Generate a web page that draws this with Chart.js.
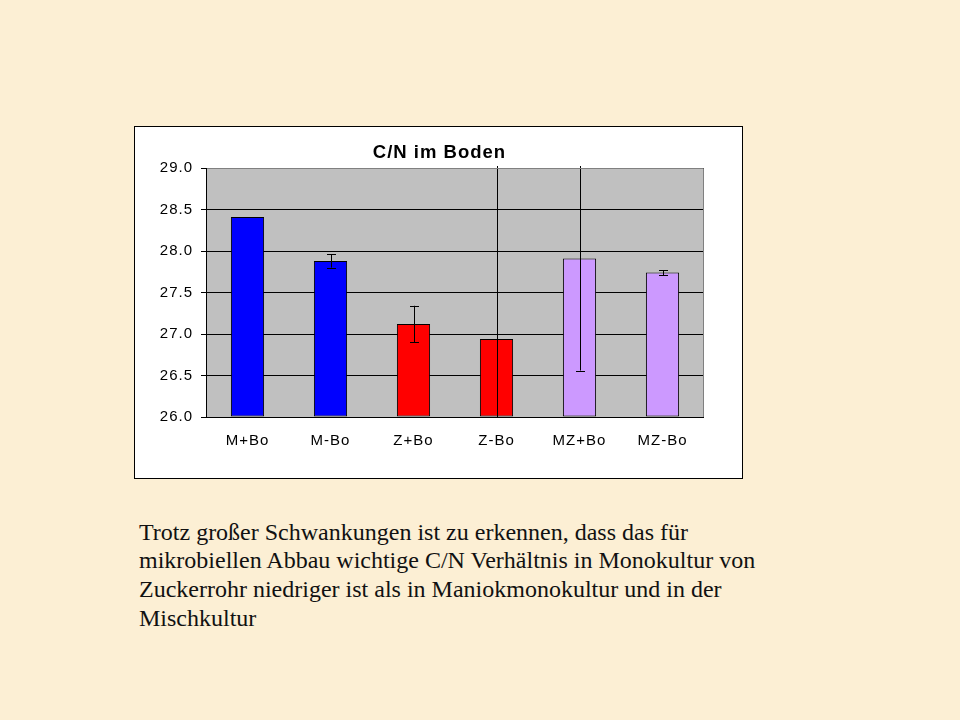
<!DOCTYPE html>
<html>
<head>
<meta charset="utf-8">
<script src="https://cdn.jsdelivr.net/npm/chart.js@4.4.1/dist/chart.umd.min.js"></script>
<style>
  html, body { margin:0; padding:0; }
  body { width:960px; height:720px; background:#fcefd4; position:relative; overflow:hidden; }
  #box { position:absolute; left:134px; top:126px; width:607px; height:351px; background:#fff; border:1px solid #000; }
  #c { position:absolute; left:0; top:0; }
  #txt { position:absolute; left:139px; top:517.6px; width:700px; font-family:"Liberation Serif","Times New Roman",serif; font-size:24px; line-height:28.7px; color:#111; white-space:nowrap; }
</style>
</head>
<body>
<div id="box"><canvas id="c" width="607" height="351"></canvas></div>
<div id="txt">Trotz großer Schwankungen ist zu erkennen, dass das für<br>mikrobiellen Abbau wichtige C/N Verhältnis in Monokultur von<br>Zuckerrohr niedriger ist als in Maniokmonokultur und in der<br>Mischkultur</div>
<script>
const chartTitle = "C/N im Boden";
const categories = ["M+Bo", "M-Bo", "Z+Bo", "Z-Bo", "MZ+Bo", "MZ-Bo"];
const cnValues = [28.41, 27.88, 27.12, 26.94, 27.91, 27.74];
const cnErrors = [0, 0.08, 0.22, 2.3, 1.35, 0.03];
const barColors = ["#0000ff", "#0000ff", "#ff0000", "#ff0000", "#cc99ff", "#cc99ff"];
const yMin = 26.0, yMax = 29.0, yStep = 0.5;

const spacing = {
  id: 'spacing',
  beforeUpdate(chart) { chart.ctx.letterSpacing = '1px'; },
  beforeDraw(chart) { chart.ctx.letterSpacing = '1px'; }
};

const plotBg = {
  id: 'plotBg',
  beforeDraw(chart) {
    const {ctx, chartArea: a} = chart;
    ctx.save();
    ctx.fillStyle = '#c0c0c0';
    ctx.fillRect(a.left, a.top, a.right - a.left, a.bottom - a.top);
    ctx.restore();
  },
  afterDraw(chart) {
    const {ctx, chartArea: a} = chart;
    ctx.save();
    ctx.strokeStyle = '#808080';
    ctx.lineWidth = 1;
    ctx.beginPath();
    ctx.moveTo(a.left, a.top + 0.5); ctx.lineTo(a.right - 0.5, a.top + 0.5);
    ctx.lineTo(a.right - 0.5, a.bottom);
    ctx.stroke();
    ctx.strokeStyle = '#000';
    ctx.beginPath();
    ctx.moveTo(a.left + 0.5, a.top); ctx.lineTo(a.left + 0.5, a.bottom + 0.5);
    ctx.lineTo(a.right, a.bottom + 0.5);
    ctx.stroke();
    ctx.fillStyle = '#000';
    ctx.letterSpacing = '1px';
    ctx.font = 'bold 18.5px "Liberation Sans", Arial, sans-serif';
    ctx.textAlign = 'center';
    ctx.textBaseline = 'middle';
    ctx.fillText(chartTitle, chart.width / 2 + 1, 26);
    ctx.restore();
  }
};

const errorBars = {
  id: 'errorBars',
  afterDatasetsDraw(chart) {
    const {ctx, chartArea: a} = chart;
    const ys = chart.scales.y;
    const meta = chart.getDatasetMeta(0);
    ctx.save();
    ctx.beginPath();
    ctx.rect(a.left, a.top - 2, a.right - a.left, a.bottom - a.top + 2);
    ctx.clip();
    ctx.strokeStyle = '#000';
    ctx.lineWidth = 1;
    meta.data.forEach((bar, i) => {
      const e = cnErrors[i];
      if (!e) return;
      const x = Math.round(bar.x) + 0.5;
      const vt = cnValues[i] + e, vb = cnValues[i] - e;
      const yt = ys.getPixelForValue(Math.min(vt, yMax)) - (vt > yMax ? 2 : 0);
      const yb = ys.getPixelForValue(Math.max(vb, yMin));
      ctx.beginPath();
      ctx.moveTo(x, yt); ctx.lineTo(x, yb);
      if (vt <= yMax) { const y = Math.round(yt) + 0.5; ctx.moveTo(x - 4.5, y); ctx.lineTo(x + 4.5, y); }
      if (vb >= yMin) { const y = Math.round(yb) + 0.5; ctx.moveTo(x - 4.5, y); ctx.lineTo(x + 4.5, y); }
      ctx.stroke();
    });
    ctx.restore();
  }
};

new Chart(document.getElementById('c'), {
  type: 'bar',
  data: {
    labels: categories,
    datasets: [{
      data: cnValues,
      base: yMin,
      backgroundColor: barColors,
      borderColor: '#000',
      borderWidth: 1,
      borderSkipped: false,
      barPercentage: 0.4,
      categoryPercentage: 1.0
    }]
  },
  options: {
    responsive: false,
    animation: false,
    devicePixelRatio: 1,
    layout: { padding: { top: 41, right: 38, left: 0, bottom: 0 } },
    plugins: { legend: { display: false }, title: { display: false }, tooltip: { enabled: false } },
    scales: {
      x: {
        grid: { display: false, drawTicks: false },
        border: { display: false },
        ticks: { color: '#000', padding: 15, font: { family: '"Liberation Sans", Arial, sans-serif', size: 15 } },
        afterFit(s) { s.height = 61; }
      },
      y: {
        min: yMin, max: yMax,
        grid: { color: '#000', lineWidth: 1, tickLength: 5, drawOnChartArea: true },
        border: { display: false },
        ticks: {
          stepSize: yStep, padding: 8, color: '#000',
          font: { family: '"Liberation Sans", Arial, sans-serif', size: 15 },
          callback: v => Number(v).toFixed(1)
        },
        afterFit(s) { s.width = 71; }
      }
    }
  },
  plugins: [spacing, plotBg, errorBars]
});
</script>
</body>
</html>
